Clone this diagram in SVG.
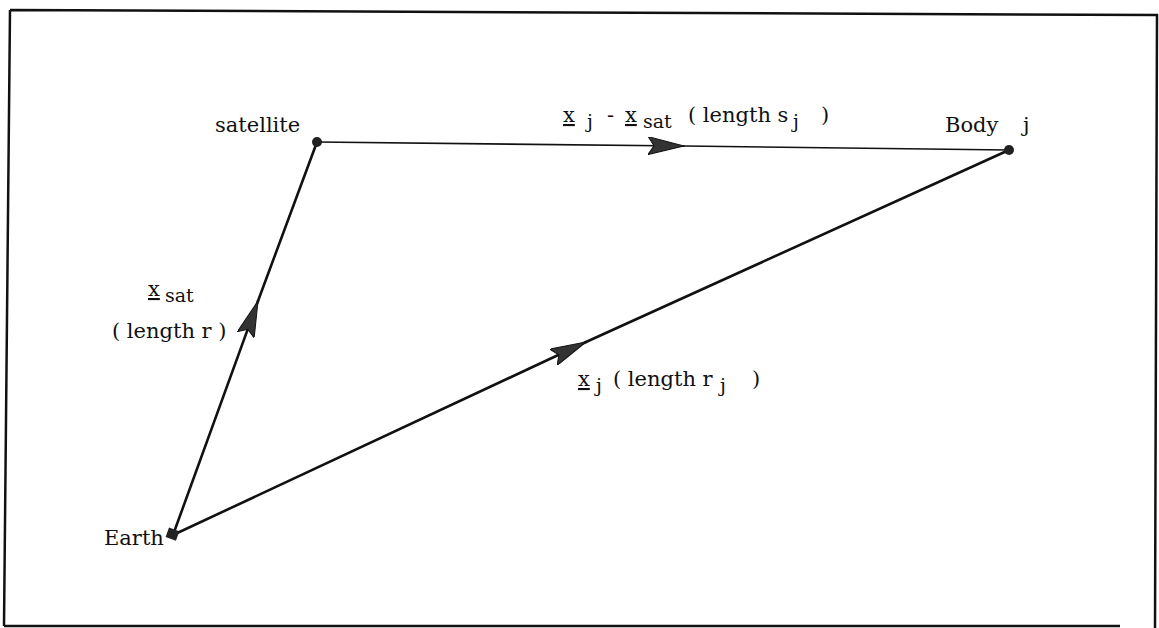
<svg xmlns="http://www.w3.org/2000/svg" width="1159" height="628" viewBox="0 0 1159 628">
<style>
text{font-family:"DejaVu Serif","Liberation Serif",serif;font-size:21px;fill:#111}
.sub{font-size:19px}
.u{text-decoration:underline}
.ln{stroke:#111;fill:none;stroke-linecap:round}
</style>
<defs>
<marker id="ah" viewBox="0 0 36 18" refX="36" refY="9" markerWidth="36" markerHeight="18" markerUnits="userSpaceOnUse" orient="auto">
<path d="M0,0 L36,9 L0,18 L6,9 Z" fill="#333" stroke="#111" stroke-width="1"/>
</marker>
</defs>
<rect width="1159" height="628" fill="#fff"/>
<path d="M10,10 L1157,15 L1155,628 M4,626 L1120,626 M10,10 L4,626" fill="none" stroke="#111" stroke-width="2.5"/>
<g id="connectors">
<path class="ln" d="M173,535 L258,301" stroke-width="2.6" marker-end="url(#ah)"/>
<path class="ln" d="M258,301 L317,142" stroke-width="2.6"/>
<path class="ln" d="M317,142 L684,146" stroke-width="1.6" marker-end="url(#ah)"/>
<path class="ln" d="M684,146 L1009,150" stroke-width="1.6"/>
<path class="ln" d="M173,535 L586,342" stroke-width="2.6" marker-end="url(#ah)"/>
<path class="ln" d="M586,342 L1009,150" stroke-width="2.6"/>
</g>
<g id="satellite">
<circle cx="317" cy="142" r="5" fill="#222"/>
<text x="215" y="132">satellite</text>
</g>
<g id="body-j">
<circle cx="1009" cy="150" r="5" fill="#222"/>
<text x="945" y="132">Body<tspan x="1023">j</tspan></text>
</g>
<g id="earth">
<rect x="167" y="529" width="11" height="10" fill="#222" transform="rotate(20 172 534)"/>
<text x="104" y="545">Earth</text>
</g>
<g id="labels">
<text x="563" y="122"><tspan class="u">x</tspan><tspan class="sub" x="587" dy="6">j</tspan><tspan x="607" dy="-6">-</tspan><tspan class="u" x="625">x</tspan><tspan class="sub" x="643" dy="6">sat</tspan><tspan x="688" dy="-6">( length s</tspan><tspan class="sub" x="793" dy="6">j</tspan><tspan x="821" dy="-6">)</tspan></text>
<text x="148" y="296"><tspan class="u">x</tspan><tspan class="sub" x="165" dy="6">sat</tspan></text>
<text x="112" y="338">( length r )</text>
<text x="578" y="386"><tspan class="u">x</tspan><tspan class="sub" x="596" dy="6">j</tspan><tspan x="613" dy="-6">( length r</tspan><tspan class="sub" x="720" dy="6">j</tspan><tspan x="752" dy="-6">)</tspan></text>
</g>
</svg>
